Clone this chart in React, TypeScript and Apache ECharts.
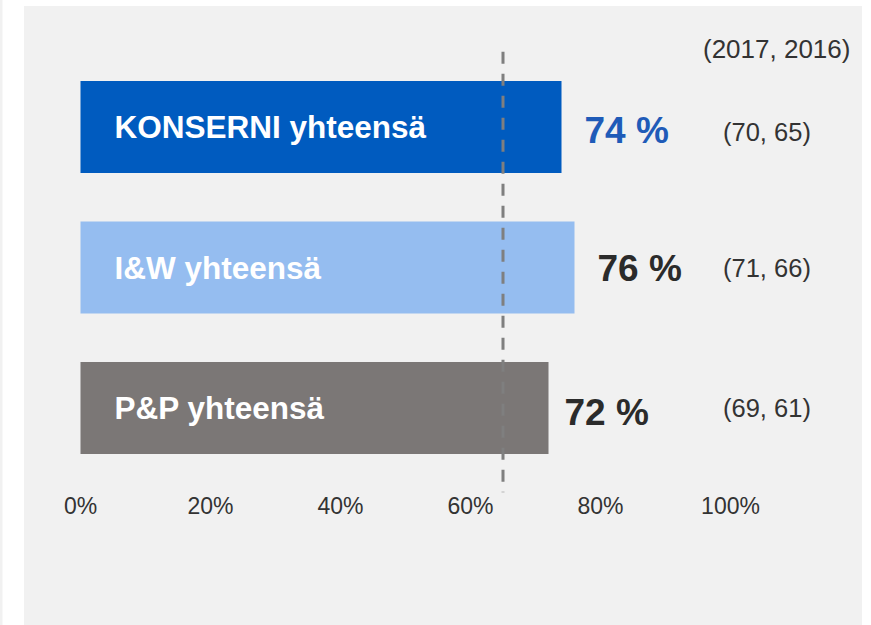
import React, { useEffect, useRef } from 'react';
import * as echarts from 'echarts';

const categories = ['KONSERNI yhteensä', 'I&W yhteensä', 'P&P yhteensä'];
const values2018 = [74, 76, 72];
const values2017 = [70, 71, 69];
const values2016 = [65, 66, 61];
const referenceValue = 65;
const xTicks = [0, 20, 40, 60, 80, 100];
const barColors = ['#005BBF', '#95BDF0', '#7B7776'];
const valueLabelColors = ['#1F5BB8', '#2B2B2B', '#2B2B2B'];
const headerText = '(2017, 2016)';

const FONT = '"Liberation Sans", Arial, Helvetica, sans-serif';

export default function App() {
  const ref = useRef<HTMLDivElement>(null);

  useEffect(() => {
    if (!ref.current) return;
    const chart = echarts.init(ref.current, undefined, { renderer: 'svg' });
    const valueOffsets = [[0, 3], [0, 1], [-7, 4]];
    const rightStyles = ['down', 'mid', 'mid'];
    const option: any = {
      animation: false,
      backgroundColor: '#ffffff',
      textStyle: { fontFamily: FONT },
      title: {
        text: headerText,
        left: 698,
        top: 31,
        textStyle: { fontSize: 26, fontWeight: 'normal', color: '#333333', fontFamily: FONT },
      },
      graphic: [
        {
          type: 'rect',
          z: -100,
          silent: true,
          shape: { x: 24, y: 6, width: 838, height: 619 },
          style: { fill: '#F1F1F1' },
        },
        {
          type: 'rect',
          z: -100,
          silent: true,
          shape: { x: 0, y: 0, width: 2.5, height: 625 },
          style: { fill: '#F1F1F1' },
        },
      ],
      grid: { left: 80.5, right: 140.5, top: 56.75, bottom: 146.75, containLabel: false },
      xAxis: {
        type: 'value',
        min: xTicks[0],
        max: xTicks[xTicks.length - 1],
        interval: xTicks[1] - xTicks[0],
        axisLine: { show: false },
        axisTick: { show: false },
        splitLine: { show: false },
        axisLabel: { formatter: '{value}%', fontSize: 23, color: '#333333', margin: 16, fontFamily: FONT },
      },
      yAxis: [
        {
          type: 'category',
          data: categories,
          inverse: true,
          axisLine: { show: false },
          axisTick: { show: false },
          axisLabel: { show: false },
        },
        {
          type: 'category',
          data: categories.map((_, i) => `(${values2017[i]}, ${values2016[i]})`),
          inverse: true,
          position: 'right',
          axisLine: { show: false },
          axisTick: { show: false },
          axisLabel: {
            margin: -7.5,
            align: 'left',
            formatter: (v: string, i: number) => `{${rightStyles[i]}|${v}}`,
            rich: {
              down: { fontSize: 25.5, color: '#333333', fontFamily: FONT, padding: [10, 0, 0, 0] },
              mid: { fontSize: 25.5, color: '#333333', fontFamily: FONT },
            },
          },
        },
      ],
      series: [
        {
          type: 'bar',
          yAxisIndex: 0,
          barWidth: 92,
          barGap: '-100%',
          data: values2018.map((v, i) => ({ value: v, itemStyle: { color: barColors[i] } })),
          label: {
            show: true,
            position: 'insideLeft',
            distance: 34,
            formatter: (p: any) => categories[p.dataIndex],
            fontSize: 31.5,
            fontWeight: 'bold',
            color: '#ffffff',
            fontFamily: FONT,
          },
        },
        {
          type: 'bar',
          yAxisIndex: 0,
          barWidth: 92,
          barGap: '-100%',
          silent: true,
          itemStyle: { color: 'rgba(0,0,0,0)' },
          data: values2018.map((v, i) => ({
            value: v,
            label: { color: valueLabelColors[i], offset: valueOffsets[i] },
          })),
          label: {
            show: true,
            position: 'right',
            distance: 23,
            formatter: '{c} %',
            fontSize: 37,
            fontWeight: 'bold',
            fontFamily: FONT,
          },
          z: 3,
        },
        {
          type: 'custom',
          yAxisIndex: 0,
          z: 10,
          silent: true,
          data: [[referenceValue, 0]],
          encode: { x: 0, y: 1 },
          renderItem: (params: any, api: any) => {
            const x = api.coord([api.value(0), 0])[0];
            const cs = params.coordSys;
            return {
              type: 'line',
              shape: { x1: x, y1: cs.y - 5, x2: x, y2: cs.y + cs.height + 14 },
              style: { stroke: '#7F7F7F', lineWidth: 3, lineDash: [12, 10] },
            };
          },
        },
      ],
    };
    chart.setOption(option);
    return () => chart.dispose();
  }, []);

  return (
    <div
      ref={ref}
      style={{ position: 'absolute', left: 0, top: 0, width: 871, height: 625 }}
    />
  );
}
